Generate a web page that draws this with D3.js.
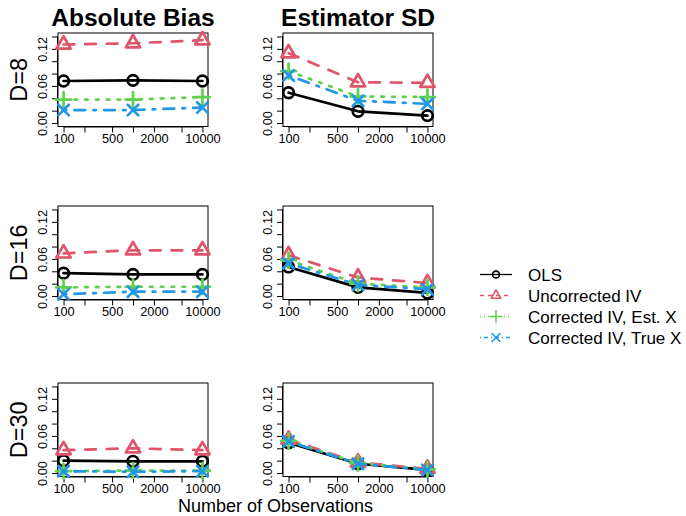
<!DOCTYPE html>
<html><head><meta charset="utf-8">
<script src="https://cdn.jsdelivr.net/npm/d3@7"></script>
<style>
body{margin:0;background:#fff}
svg{display:block}
text{font-family:"Liberation Sans",Arial,Helvetica,sans-serif;fill:#000}
</style>
</head><body><svg id="c" width="686" height="516"></svg>
<script>
// ---------- data ----------
const nObs = [100, 1000, 10000];
const dLabels = ["D=8", "D=16", "D=30"];
const metricTitles = ["Absolute Bias", "Estimator SD"];
const seriesNames = ["OLS", "Uncorrected IV", "Corrected IV, Est. X", "Corrected IV, True X"];
const seriesColors = ["#000000", "#DF536B", "#61D04F", "#2297E6"];
const seriesSymbols = ["circle", "triangle", "plus", "times"];

// Absolute bias, rows D=8, D=16, D=30; values at n = 100, 1000, 10000
const biasOLS   = [[0.068, 0.069, 0.068], [0.037, 0.035, 0.035], [0.020, 0.019, 0.019]];
const biasUncIV = [[0.127, 0.129, 0.134], [0.069, 0.074, 0.074], [0.037, 0.040, 0.037]];
const biasEstX  = [[0.038, 0.038, 0.042], [0.014, 0.015, 0.015], [0.003, 0.004, 0.004]];
const biasTrueX = [[0.021, 0.021, 0.025], [0.003, 0.007, 0.007], [0.003, 0.002, 0.003]];

// Estimator SD
const sdOLS   = [[0.049, 0.019, 0.012], [0.047, 0.014, 0.005], [0.049, 0.015, 0.005]];
const sdUncIV = [[0.113, 0.066, 0.065], [0.066, 0.030, 0.021], [0.054, 0.017, 0.007]];
const sdEstX  = [[0.084, 0.043, 0.042], [0.058, 0.020, 0.014], [0.052, 0.016, 0.006]];
const sdTrueX = [[0.077, 0.036, 0.031], [0.053, 0.018, 0.011], [0.051, 0.015, 0.005]];

const xTicks = [100, 200, 500, 1000, 2000, 5000, 10000];
const xTickLabels = ["100", "500", "2000", "10000"];
const yTicks = [0, 0.02, 0.04, 0.06, 0.08, 0.10, 0.12, 0.14];
const yTickLabels = ["0.00", "0.06", "0.12"];

// ---------- layout ----------
const svg = d3.select("#c");
const colX = [58, 283], boxW = 150;
const rowY = [33, 206, 383], boxH = 93.5;
const panelLwd = 2.7;
const panelDash = ["", "10.8,10.8", "2.7,8.1", "2.7,8.1,10.8,8.1"];
const legendDash = ["", "4,4", "1,3", "1,3,4,3"];

const metricData = [
  [biasOLS, biasUncIV, biasEstX, biasTrueX],
  [sdOLS, sdUncIV, sdEstX, sdTrueX]
];

function symbolPath(type, s) {
  if (type === "triangle") {
    const r = s * 1.555, yc = r / 2, xc = s * 1.347;
    return `M0,${-r}L${xc},${yc}L${-xc},${yc}Z`;
  }
  if (type === "plus") {
    const a = s * 1.414;
    return `M${-a},0L${a},0M0,${-a}L0,${a}`;
  }
  if (type === "times") {
    const a = s;
    return `M${-a},${-a}L${a},${a}M${-a},${a}L${a},${-a}`;
  }
  return null;
}
function drawSymbol(g, type, x, y, s, color, w) {
  if (type === "circle") {
    g.append("circle").attr("cx", x).attr("cy", y).attr("r", s)
      .attr("fill", "none").attr("stroke", color).attr("stroke-width", w);
  } else {
    g.append("path").attr("d", symbolPath(type, s))
      .attr("transform", `translate(${x},${y})`)
      .attr("fill", "none").attr("stroke", color).attr("stroke-width", w)
      .attr("stroke-linecap", "round").attr("stroke-linejoin", "round");
  }
}

const lx = [Math.log10(100), Math.log10(10000)];
const ex = (lx[1] - lx[0]) * 0.04;
const yMin = 0, yMax = 0.14, ey = (yMax - yMin) * 0.04;

for (let c = 0; c < 2; c++) {
  for (let r = 0; r < 3; r++) {
    const x0 = colX[c], y0 = rowY[r];
    const x = d3.scaleLog().domain([Math.pow(10, lx[0] - ex), Math.pow(10, lx[1] + ex)]).range([x0, x0 + boxW]);
    const y = d3.scaleLinear().domain([yMin - ey, yMax + ey]).range([y0 + boxH, y0]);
    const g = svg.append("g");

    const xa = g.append("g").attr("transform", `translate(0,${y0 + boxH})`)
      .call(d3.axisBottom(x).tickValues(xTicks).tickSizeOuter(0).tickSize(6).tickPadding(3)
        .tickFormat(d => xTickLabels.includes(String(d)) ? String(d) : ""));
    xa.select(".domain").attr("d", `M${x(100)},0.5H${x(10000)}`).attr("stroke", "#000");
    xa.selectAll(".tick line").attr("stroke", "#000");
    xa.selectAll("text").attr("font-size", 12.8).attr("dy", 0).attr("y", 16)
      .style("font-family", '"Liberation Sans",Arial,sans-serif').attr("fill", "#000");

    const ya = g.append("g").attr("transform", `translate(${x0},0)`)
      .call(d3.axisLeft(y).tickValues(yTicks).tickSizeOuter(0).tickSize(6)
        .tickFormat(d => { const s = d3.format(".2f")(d); return yTickLabels.includes(s) ? s : ""; }));
    ya.select(".domain").attr("d", `M-0.5,${y(0)}V${y(0.14)}`).attr("stroke", "#000");
    ya.selectAll(".tick line").attr("stroke", "#000");
    ya.selectAll("text").attr("font-size", 12.8).attr("x", 0).attr("dy", 0)
      .attr("text-anchor", "middle").attr("transform", "translate(-11,0) rotate(-90)")
      .style("font-family", '"Liberation Sans",Arial,sans-serif').attr("fill", "#000");

    g.append("rect").attr("x", x0).attr("y", y0).attr("width", boxW).attr("height", boxH)
      .attr("fill", "none").attr("stroke", "#000").attr("stroke-width", 1);

    const data = metricData[c];
    const line = d3.line().x((d, i) => x(nObs[i])).y(d => y(d));
    for (let s = 0; s < 4; s++) {
      const vals = data[s][r];
      g.append("path").attr("d", line(vals)).attr("fill", "none")
        .attr("stroke", seriesColors[s]).attr("stroke-width", panelLwd)
        .attr("stroke-dasharray", panelDash[s] || null)
        .attr("stroke-linecap", "round").attr("stroke-linejoin", "round");
      vals.forEach((v, i) => drawSymbol(g, seriesSymbols[s], x(nObs[i]), y(v), 5.3, seriesColors[s], panelLwd));
    }
  }
}

metricTitles.forEach((t, c) => {
  svg.append("text").attr("x", colX[c] + boxW / 2).attr("y", 26).attr("text-anchor", "middle")
    .attr("font-size", 24.5).attr("font-weight", "bold").text(t);
});
dLabels.forEach((t, r) => {
  svg.append("text").attr("transform", `translate(27,${rowY[r] + boxH / 2}) rotate(-90)`)
    .attr("text-anchor", "middle").attr("font-size", 23.5).text(t);
});
svg.append("text").attr("x", 275.5).attr("y", 512).attr("text-anchor", "middle")
  .attr("font-size", 18).text("Number of Observations");

const leg = svg.append("g");
const legY = [274.5, 295.5, 316.5, 337.5];
const legSym = [3.4, 3.6, 4.2, 4.0];
seriesNames.forEach((nm, s) => {
  const yy = legY[s];
  leg.append("line").attr("x1", 480).attr("x2", 512).attr("y1", yy).attr("y2", yy)
    .attr("stroke", seriesColors[s]).attr("stroke-width", 1.3)
    .attr("stroke-dasharray", legendDash[s] || null);
  drawSymbol(leg, seriesSymbols[s], 496, yy, legSym[s], seriesColors[s], 1.6);
  leg.append("text").attr("x", 528).attr("y", yy + 6).attr("font-size", 17).text(nm);
});
</script>
</body></html>
